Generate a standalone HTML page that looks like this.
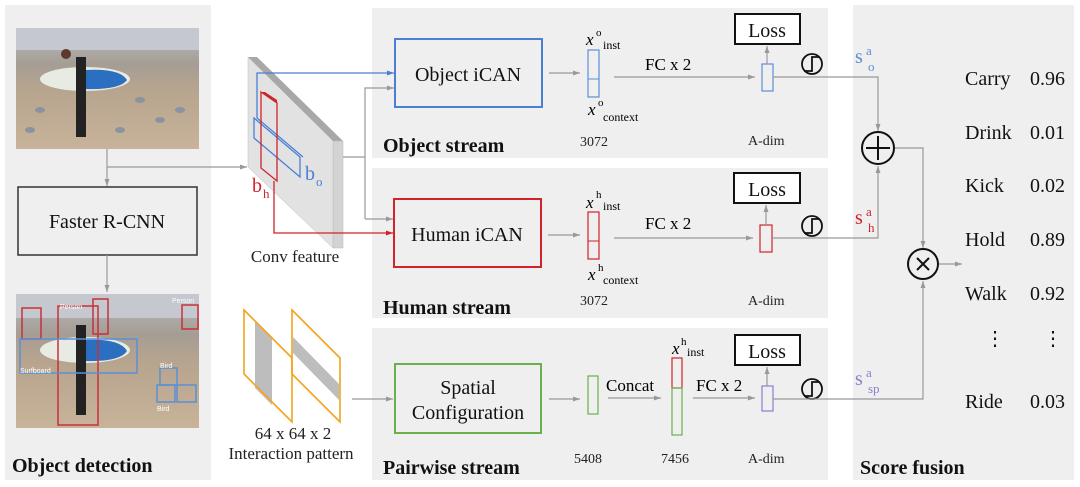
<!DOCTYPE html>
<html><head><meta charset="utf-8"><style>
body{margin:0;background:#fff;}
svg{display:block;font-family:"Liberation Serif",serif;}
.b{font-weight:bold;font-size:20px;fill:#111}
.t{font-size:20px;fill:#111}
.s{font-size:14px;fill:#222}
.g{stroke:#999;stroke-width:1.2;fill:none}
</style></head><body>
<svg width="1080" height="487" viewBox="0 0 1080 487">
<defs>
<marker id="ag" markerWidth="8" markerHeight="8" refX="7" refY="4" orient="auto" markerUnits="userSpaceOnUse"><path d="M0,1.5 L7,4 L0,6.5z" fill="#999"/></marker>
<marker id="ab" markerWidth="8" markerHeight="8" refX="7" refY="4" orient="auto" markerUnits="userSpaceOnUse"><path d="M0,1.5 L7,4 L0,6.5z" fill="#4a7fd4"/></marker>
<marker id="ar" markerWidth="8" markerHeight="8" refX="7" refY="4" orient="auto" markerUnits="userSpaceOnUse"><path d="M0,1.5 L7,4 L0,6.5z" fill="#d0232a"/></marker>
<linearGradient id="ph" x1="0" y1="0" x2="0" y2="1"><stop offset="0" stop-color="#b9bcc2"/><stop offset="0.3" stop-color="#a59d94"/><stop offset="0.5" stop-color="#b7a48e"/><stop offset="1" stop-color="#c8b39a"/></linearGradient>
</defs>
<!-- panels -->
<rect x="5" y="5" width="206" height="475" fill="#efefef"/>
<rect x="372" y="8" width="456" height="150" fill="#efefef"/>
<rect x="372" y="168" width="456" height="150" fill="#efefef"/>
<rect x="372" y="328" width="456" height="152" fill="#efefef"/>
<rect x="853" y="5" width="221" height="475" fill="#efefef"/>

<!-- photos -->
<g>
<rect x="16" y="28" width="183" height="121" fill="url(#ph)"/>
<rect x="16" y="28" width="183" height="22" fill="#c5c8ce"/>
<ellipse cx="85" cy="79" rx="45" ry="12" fill="#e8ebe4"/>
<path d="M85,70 Q120,68 127,80 Q120,90 85,89z" fill="#2a6fc0"/>
<rect x="76" y="57" width="10" height="80" fill="#222"/>
<circle cx="66" cy="54" r="5" fill="#5a3a2a"/>
<g fill="#8a93a0"><ellipse cx="40" cy="110" rx="5" ry="3"/><ellipse cx="140" cy="100" rx="5" ry="3"/><ellipse cx="160" cy="120" rx="5" ry="3"/><ellipse cx="120" cy="130" rx="5" ry="3"/><ellipse cx="30" cy="130" rx="5" ry="3"/><ellipse cx="180" cy="110" rx="5" ry="3"/></g>
</g>
<g>
<rect x="16" y="294" width="183" height="134" fill="url(#ph)"/>
<rect x="16" y="294" width="183" height="24" fill="#c5c8ce"/>
<ellipse cx="85" cy="350" rx="45" ry="13" fill="#e8ebe4"/>
<path d="M85,340 Q120,338 127,351 Q120,362 85,361z" fill="#2a6fc0"/>
<rect x="76" y="325" width="10" height="90" fill="#222"/>
<g fill="none" stroke-width="1.5"><rect x="58" y="306" width="40" height="119" stroke="#c8303a"/><rect x="22" y="308" width="19" height="31" stroke="#c8303a"/><rect x="93" y="299" width="15" height="35" stroke="#c8303a"/><rect x="182" y="305" width="16" height="24" stroke="#c8303a"/><rect x="20" y="339" width="117" height="34" stroke="#5b8fd6"/><rect x="160" y="368" width="17" height="17" stroke="#5b8fd6"/><rect x="157" y="385" width="18" height="17" stroke="#5b8fd6"/><rect x="177" y="385" width="19" height="17" stroke="#5b8fd6"/></g>
<g font-family="Liberation Sans" font-size="7" fill="#fff"><text x="60" y="309">Person</text><text x="172" y="303">Person</text><text x="20" y="373">Surfboard</text><text x="160" y="368">Bird</text><text x="157" y="411">Bird</text></g>
</g>

<!-- left flow -->
<line x1="107" y1="149" x2="107" y2="186" class="g" marker-end="url(#ag)"/>
<line x1="107" y1="167" x2="247" y2="167" class="g" marker-end="url(#ag)"/>
<rect x="18" y="187" width="179" height="68" fill="none" stroke="#333" stroke-width="1.5"/>
<text x="107" y="228" class="t" text-anchor="middle">Faster R-CNN</text>
<line x1="107" y1="255" x2="107" y2="292" class="g" marker-end="url(#ag)"/>
<text x="12" y="472" class="b">Object detection</text>

<!-- conv feature -->
<polygon points="248,57 257,57 343,141 333,141" fill="#a8a8a8"/>
<polygon points="333,141 343,141 343,248 333,248" fill="#d3d3d3" stroke="#bbb" stroke-width="0.5"/>
<polygon points="248,57 333,141 333,248 248,167" fill="#e2e2e2" stroke="#bbb" stroke-width="0.5"/>
<polyline points="257,118 257,73 394,73" fill="none" stroke="#4a7fd4" stroke-width="1.3" marker-end="url(#ab)"/>
<polygon points="254,118 300,157 300,177 254,138" fill="none" stroke="#4a7fd4" stroke-width="1.3"/>
<line x1="257" y1="118" x2="303" y2="157" stroke="#4a7fd4" stroke-width="1.2"/>
<polygon points="261,92 277,103 277,181 261,168" fill="none" stroke="#d0232a" stroke-width="1.3"/>
<polygon points="261,92 265,92 277,100 277,103" fill="#d0232a"/>
<polyline points="274,181 274,233 393,233" fill="none" stroke="#d0232a" stroke-width="1.3" marker-end="url(#ar)"/>
<text x="305" y="180" font-size="20" fill="#4a7fd4">b</text><text x="316" y="186" font-size="13" fill="#4a7fd4">o</text>
<text x="252" y="192" font-size="20" fill="#d0232a">b</text><text x="263" y="198" font-size="13" fill="#d0232a">h</text>
<polyline points="343,157 365,157" class="g"/>
<polyline points="365,219 365,88 394,88" class="g" marker-end="url(#ag)"/>
<line x1="365" y1="219" x2="393" y2="219" class="g" marker-end="url(#ag)"/>
<text x="295" y="262" font-size="17" text-anchor="middle" fill="#222">Conv feature</text>

<!-- interaction pattern -->
<polygon points="255,321 272,338 272,405 255,388" fill="#bdbdbd"/>
<polygon points="244,310 292,358 292,422 244,374" fill="none" stroke="#f2a31b" stroke-width="1.6"/>
<polygon points="293,337 339,384 339,400 293,353" fill="#bdbdbd"/>
<polygon points="292,310 340,358 340,422 292,374" fill="none" stroke="#f2a31b" stroke-width="1.6"/>
<line x1="352" y1="399" x2="393" y2="399" class="g" marker-end="url(#ag)"/>
<text x="293" y="439" font-size="17" text-anchor="middle" fill="#222">64 x 64 x 2</text>
<text x="291" y="459" font-size="17" text-anchor="middle" fill="#222">Interaction pattern</text>

<!-- object stream -->
<rect x="395" y="39" width="147" height="68" fill="none" stroke="#4a7fd4" stroke-width="2"/>
<text x="468" y="81" class="t" text-anchor="middle">Object iCAN</text>
<line x1="549" y1="73" x2="580" y2="73" class="g" marker-end="url(#ag)"/>
<rect x="588" y="50" width="11" height="47" fill="none" stroke="#5b8fd6" stroke-width="1.2"/><line x1="588" y1="79" x2="599" y2="79" stroke="#5b8fd6"/>
<text x="586" y="45" font-size="17" font-style="italic">x</text><text x="596" y="36" font-size="11">o</text><text x="603" y="49" font-size="12">inst</text>
<text x="588" y="115" font-size="17" font-style="italic">x</text><text x="598" y="106" font-size="11">o</text><text x="603" y="121" font-size="12">context</text>
<text x="580" y="146" class="s">3072</text>
<text x="645" y="70" font-size="17">FC x 2</text>
<line x1="614" y1="77" x2="755" y2="77" class="g" marker-end="url(#ag)"/>
<rect x="762" y="64" width="11" height="27" fill="none" stroke="#5b8fd6" stroke-width="1.2"/>
<line x1="767" y1="64" x2="767" y2="46" class="g" marker-end="url(#ag)"/>
<rect x="735" y="14" width="65" height="30" fill="#fff" stroke="#111" stroke-width="2"/>
<text x="767" y="37" class="t" text-anchor="middle">Loss</text>
<text x="748" y="145" class="s">A-dim</text>
<text x="383" y="152" class="b">Object stream</text>

<!-- human stream -->
<rect x="394" y="199" width="147" height="68" fill="none" stroke="#d0232a" stroke-width="2"/>
<text x="467" y="241" class="t" text-anchor="middle">Human iCAN</text>
<line x1="548" y1="235" x2="580" y2="235" class="g" marker-end="url(#ag)"/>
<rect x="588" y="212" width="11" height="47" fill="none" stroke="#d0232a" stroke-width="1.2"/><line x1="588" y1="241" x2="599" y2="241" stroke="#d0232a"/>
<text x="586" y="208" font-size="17" font-style="italic">x</text><text x="596" y="198" font-size="11">h</text><text x="603" y="210" font-size="12">inst</text>
<text x="588" y="280" font-size="17" font-style="italic">x</text><text x="598" y="271" font-size="11">h</text><text x="603" y="284" font-size="12">context</text>
<text x="580" y="305" class="s">3072</text>
<text x="645" y="229" font-size="17">FC x 2</text>
<line x1="614" y1="238" x2="753" y2="238" class="g" marker-end="url(#ag)"/>
<rect x="760" y="225" width="12" height="27" fill="none" stroke="#d0232a" stroke-width="1.2"/>
<line x1="766" y1="225" x2="766" y2="205" class="g" marker-end="url(#ag)"/>
<rect x="734" y="173" width="66" height="30" fill="#fff" stroke="#111" stroke-width="2"/>
<text x="767" y="196" class="t" text-anchor="middle">Loss</text>
<text x="748" y="305" class="s">A-dim</text>
<text x="383" y="314" class="b">Human stream</text>

<!-- pairwise -->
<rect x="395" y="364" width="146" height="69" fill="none" stroke="#6ab04c" stroke-width="2"/>
<text x="468" y="394" class="t" text-anchor="middle">Spatial</text>
<text x="468" y="419" class="t" text-anchor="middle">Configuration</text>
<line x1="549" y1="399" x2="580" y2="399" class="g" marker-end="url(#ag)"/>
<rect x="588" y="376" width="10" height="38" fill="none" stroke="#6ab04c" stroke-width="1.2"/>
<text x="606" y="391" font-size="17">Concat</text>
<line x1="608" y1="398" x2="661" y2="398" class="g" marker-end="url(#ag)"/>
<rect x="672" y="358" width="10" height="30" fill="none" stroke="#d0232a" stroke-width="1.2"/>
<rect x="672" y="388" width="10" height="47" fill="none" stroke="#6ab04c" stroke-width="1.2"/>
<text x="672" y="354" font-size="17" font-style="italic">x</text><text x="681" y="345" font-size="11">h</text><text x="687" y="356" font-size="12">inst</text>
<text x="696" y="391" font-size="17">FC x 2</text>
<line x1="693" y1="398" x2="755" y2="398" class="g" marker-end="url(#ag)"/>
<rect x="762" y="386" width="11" height="25" fill="none" stroke="#8a7fd0" stroke-width="1.2"/>
<line x1="767" y1="386" x2="767" y2="367" class="g" marker-end="url(#ag)"/>
<rect x="735" y="335" width="65" height="30" fill="#fff" stroke="#111" stroke-width="2"/>
<text x="767" y="358" class="t" text-anchor="middle">Loss</text>
<text x="574" y="463" class="s">5408</text>
<text x="661" y="463" class="s">7456</text>
<text x="748" y="463" class="s">A-dim</text>
<text x="383" y="474" class="b">Pairwise stream</text>

<!-- sigmoid icons -->
<g fill="none" stroke="#111" stroke-width="1.8">
<circle cx="812" cy="64" r="10"/><path d="M804,71 L812,71 L812,57 L819,57"/>
<circle cx="812" cy="226" r="10"/><path d="M804,233 L812,233 L812,219 L819,219"/>
<circle cx="812" cy="389" r="10"/><path d="M804,396 L812,396 L812,382 L819,382"/>
</g>

<!-- fusion lines -->
<polyline points="773,77 878,77 878,131" class="g" marker-end="url(#ag)"/>
<polyline points="772,238 878,238 878,166" class="g" marker-end="url(#ag)"/>
<polyline points="894,148 923,148 923,248" class="g" marker-end="url(#ag)"/>
<polyline points="773,399 923,399 923,281" class="g" marker-end="url(#ag)"/>
<line x1="938" y1="264" x2="962" y2="264" class="g" marker-end="url(#ag)"/>
<circle cx="878" cy="148" r="16" fill="#efefef" stroke="#111" stroke-width="2"/>
<path d="M866,148 H890 M878,136 V160" stroke="#111" stroke-width="2"/>
<circle cx="923" cy="264" r="15" fill="#efefef" stroke="#111" stroke-width="2"/>
<path d="M917,258 L929,270 M929,258 L917,270" stroke="#111" stroke-width="2"/>

<text x="855" y="63" font-size="20" fill="#5b8fd6">s</text><text x="866" y="55" font-size="13" fill="#5b8fd6">a</text><text x="868" y="71" font-size="13" fill="#5b8fd6">o</text>
<text x="855" y="224" font-size="20" fill="#d0232a">s</text><text x="866" y="216" font-size="13" fill="#d0232a">a</text><text x="868" y="232" font-size="13" fill="#d0232a">h</text>
<text x="855" y="385" font-size="20" fill="#8a7fd0">s</text><text x="866" y="377" font-size="13" fill="#8a7fd0">a</text><text x="868" y="393" font-size="13" fill="#8a7fd0">sp</text>

<!-- scores -->
<g class="t">
<text x="965" y="85" class="t">Carry</text><text x="1030" y="85" class="t">0.96</text>
<text x="965" y="139" class="t">Drink</text><text x="1030" y="139" class="t">0.01</text>
<text x="965" y="192" class="t">Kick</text><text x="1030" y="192" class="t">0.02</text>
<text x="965" y="246" class="t">Hold</text><text x="1030" y="246" class="t">0.89</text>
<text x="965" y="300" class="t">Walk</text><text x="1030" y="300" class="t">0.92</text>
<text x="985" y="345" class="t">⋮</text><text x="1043" y="345" class="t">⋮</text>
<text x="965" y="408" class="t">Ride</text><text x="1030" y="408" class="t">0.03</text>
</g>
<text x="860" y="474" class="b">Score fusion</text>
</svg>
</body></html>
